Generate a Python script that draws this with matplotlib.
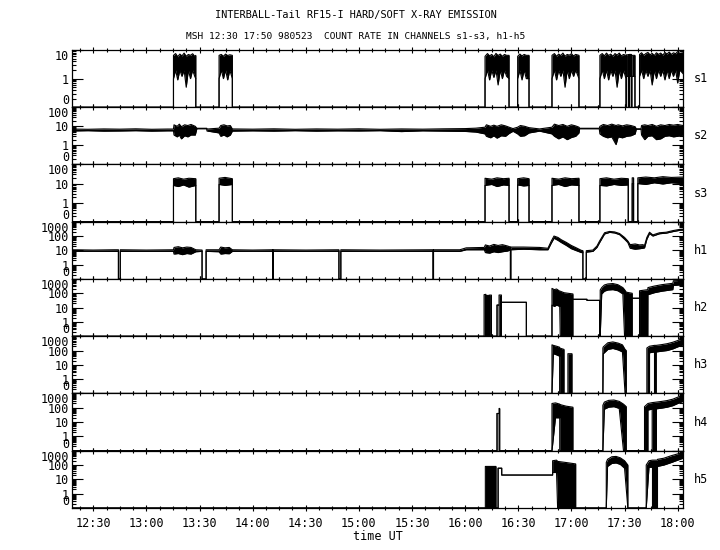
import numpy as np
import matplotlib
matplotlib.use("Agg")
import matplotlib.pyplot as plt
from matplotlib.ticker import FixedLocator, FixedFormatter, MultipleLocator, FuncFormatter, LogLocator, NullFormatter

plt.rcParams['font.family'] = ['DejaVu Sans Mono']

# ---------------- data (time in decimal hours UT, count rates) ----------------
# each channel: times, upper envelope, lower envelope (0 = no counts)
s1_t  = [12.30,
         13.255, 13.255, 13.275, 13.295, 13.315, 13.335, 13.355, 13.375, 13.395, 13.415, 13.435, 13.455, 13.465, 13.465,
         13.684, 13.684, 13.705, 13.725, 13.745, 13.765, 13.785, 13.809, 13.809,
         16.187, 16.187, 16.21, 16.23, 16.25, 16.27, 16.29, 16.31, 16.33, 16.35, 16.37, 16.39, 16.413, 16.413,
         16.494, 16.494, 16.515, 16.535, 16.555, 16.575, 16.601, 16.601,
         16.817, 16.817, 16.84, 16.86, 16.88, 16.90, 16.92, 16.94, 16.96, 16.98, 17.00, 17.02, 17.04, 17.071, 17.071,
         17.268, 17.268, 17.29, 17.31, 17.33, 17.35, 17.37, 17.39, 17.41, 17.43, 17.45, 17.47, 17.49, 17.514,
         17.514, 17.519, 17.519, 17.539, 17.539, 17.544, 17.544, 17.564, 17.564, 17.569, 17.569, 17.598, 17.598,
         17.641, 17.641, 17.66, 17.68, 17.70, 17.72, 17.74, 17.76, 17.78, 17.80, 17.82, 17.84, 17.86, 17.88,
         17.90, 17.92, 17.94, 17.96, 17.98, 18.00, 18.02, 18.05]
s1_hi = [0,
         0, 6.5, 7.5, 5.8, 7.2, 6.2, 7.8, 6.0, 7.0, 6.5, 7.4, 6.0, 6.5, 0,
         0, 6.5, 7.0, 6.0, 7.2, 6.4, 6.8, 6.5, 0,
         0, 6.0, 7.5, 6.2, 7.0, 5.8, 7.6, 6.4, 7.2, 6.0, 7.0, 6.5, 6.5, 0,
         0, 6.0, 7.2, 6.2, 7.0, 6.5, 6.5, 0,
         0, 6.5, 7.5, 6.0, 7.2, 6.4, 7.8, 6.0, 7.0, 6.6, 7.4, 6.2, 7.0, 6.5, 0,
         0, 6.5, 7.5, 6.2, 7.8, 6.4, 7.2, 6.0, 7.5, 6.6, 7.8, 6.2, 7.0, 6.5,
         0, 0, 6.8, 6.8, 0, 0, 7.0, 7.0, 0, 0, 6.5, 6.5, 0,
         0, 7.0, 8.0, 6.5, 7.5, 8.2, 6.8, 7.6, 6.4, 8.0, 7.0, 7.8, 6.6, 8.2,
         7.2, 8.5, 7.0, 8.0, 7.4, 8.8, 7.6, 8.0]
s1_lo = [0,
         0, 1.0, 2.0, 0.9, 2.0, 1.2, 2.0, 0.5, 2.0, 1.0, 2.0, 1.2, 1.0, 0,
         0, 1.0, 2.0, 1.0, 2.0, 0.9, 2.0, 1.0, 0,
         0, 1.0, 2.0, 0.9, 2.0, 1.1, 2.0, 0.6, 2.0, 1.0, 2.0, 1.2, 1.0, 0,
         0, 1.0, 2.0, 0.9, 2.0, 1.0, 1.0, 0,
         0, 1.0, 2.0, 0.9, 2.0, 1.2, 2.0, 0.5, 2.0, 1.0, 2.0, 1.2, 2.0, 1.0, 0,
         0, 1.0, 2.0, 1.0, 2.0, 0.9, 2.0, 1.2, 2.0, 0.5, 2.0, 1.0, 2.0, 1.0,
         0, 0, 1.2, 1.2, 0, 0, 1.2, 1.2, 0, 0, 1.2, 1.2, 0,
         0, 1.2, 2.0, 1.0, 2.0, 1.2, 2.0, 0.6, 2.0, 1.0, 2.0, 1.2, 2.0, 0.9,
         2.0, 1.0, 2.0, 1.2, 2.0, 0.7, 2.0, 1.5]

s2_t  = [12.30, 12.45, 12.60, 12.75, 12.90, 13.05, 13.20, 13.255, 13.26, 13.29, 13.31, 13.33, 13.36, 13.39,
         13.42, 13.46, 13.475, 13.568, 13.57, 13.684, 13.70, 13.73, 13.76, 13.79, 13.809,
         14.00, 14.20, 14.40, 14.60, 14.80, 15.00, 15.20, 15.40, 15.60, 15.80, 16.00, 16.10,
         16.187, 16.20, 16.24, 16.27, 16.30, 16.34, 16.38, 16.413, 16.45, 16.494, 16.52, 16.56, 16.601,
         16.70, 16.817, 16.84, 16.88, 16.92, 16.96, 17.00, 17.04, 17.071, 17.077, 17.262, 17.268,
         17.30, 17.34, 17.38, 17.42, 17.44, 17.48, 17.52, 17.56, 17.60, 17.61, 17.655, 17.66, 17.69,
         17.72, 17.76, 17.80, 17.84, 17.88, 17.92, 17.96, 18.00, 18.05]
s2_hi = [7.2, 7.0, 7.3, 7.1, 7.4, 7.0, 7.2, 7.2, 12, 10, 13, 9.5, 12, 11,
         12.5, 10, 7.9, 7.9, 7.2, 8.0, 11, 12, 10.5, 11, 7.3,
         7.1, 7.4, 7.0, 7.3, 7.1, 7.4, 7.0, 7.3, 7.1, 7.4, 7.6, 8.0,
         9, 12, 10, 11.5, 10, 12, 10.5, 9, 7.6, 9, 11, 10, 8.5,
         7.3, 9, 13, 11, 12.5, 10, 12, 10.5, 9, 7.9, 7.9, 10,
         12.5, 11, 13, 11, 12, 10.5, 12, 11, 9.5, 7.4, 7.4, 11, 12,
         11, 12.5, 10, 12, 11, 12.5, 11.5, 12.5, 11]
s2_lo = [5.7, 5.9, 5.6, 5.7, 5.9, 5.6, 5.8, 5.8, 3.5, 2.8, 3.5, 2.2, 3.2, 2.8,
         3.5, 3.5, 7.5, 7.5, 5.7, 4.5, 3.0, 3.5, 2.8, 3.5, 5.6,
         5.8, 5.6, 5.9, 5.6, 5.8, 5.7, 5.9, 5.3, 5.8, 5.6, 5.4, 5.0,
         4.0, 3.0, 2.5, 3.2, 2.4, 3.2, 3.0, 4.2, 5.5, 4.0, 3.0, 3.2, 4.5,
         5.6, 4.0, 3.0, 2.2, 2.8, 2.0, 2.6, 3.0, 4.5, 7.5, 7.5, 4.0,
         3.0, 2.5, 2.8, 1.1, 2.8, 2.5, 3.0, 3.2, 4.0, 7.0, 7.0, 3.5, 2.0,
         3.0, 3.2, 2.0, 2.2, 3.0, 3.2, 2.8, 3.0, 3.5]

s3_t  = [12.30, 13.255, 13.255, 13.30, 13.35, 13.40, 13.465, 13.465,
         13.684, 13.684, 13.74, 13.809, 13.809,
         16.187, 16.187, 16.25, 16.30, 16.36, 16.413, 16.413,
         16.494, 16.494, 16.55, 16.601, 16.601,
         16.817, 16.817, 16.88, 16.94, 17.00, 17.071, 17.071,
         17.268, 17.268, 17.33, 17.40, 17.47, 17.535, 17.535, 17.572, 17.572, 17.585, 17.585,
         17.625, 17.625, 17.70, 17.78, 17.86, 17.94, 18.05]
s3_hi = [0, 0, 18, 20, 17, 19, 18, 0,
         0, 19, 21, 18, 0,
         0, 19, 17, 20, 18, 19, 0,
         0, 18, 20, 18, 0,
         0, 19, 17, 20, 18, 19, 0,
         0, 18, 20, 17, 19, 18, 0, 0, 20, 20, 0,
         0, 20, 22, 20, 23, 21, 22]
s3_lo = [0, 0, 8, 7, 8.5, 6.5, 8, 0,
         0, 9, 8, 9, 0,
         0, 8, 9, 7, 8.5, 8, 0,
         0, 8.5, 7.5, 8, 0,
         0, 8, 9, 7, 8.5, 8, 0,
         0, 8, 7.5, 9, 8, 8.5, 0, 0, 10, 10, 0,
         0, 10, 9, 11, 9.5, 11, 10]

h1_t  = [12.30, 12.50, 12.70, 12.737, 12.737, 12.754, 12.754, 13.00, 13.255, 13.26, 13.30, 13.34, 13.38,
         13.42, 13.465, 13.524, 13.524, 13.562, 13.562, 13.684, 13.70, 13.74, 13.78, 13.809, 14.00,
         14.189, 14.189, 14.193, 14.193, 14.50, 14.812, 14.812, 14.83, 14.83, 15.20, 15.698, 15.698,
         15.702, 15.702, 15.95, 16.01, 16.18, 16.19, 16.23, 16.27, 16.31, 16.35, 16.40, 16.426, 16.426,
         16.43, 16.43, 16.55, 16.70, 16.779, 16.811, 16.836, 16.873, 16.905, 16.952, 16.999, 17.046,
         17.093, 17.108, 17.108, 17.14, 17.14, 17.202, 17.24, 17.265, 17.312, 17.359, 17.406, 17.453,
         17.50, 17.531, 17.553, 17.60, 17.64, 17.672, 17.688, 17.71, 17.735, 17.766, 17.829, 17.892,
         17.955, 18.017, 18.05]
h1_hi = [11, 10.5, 11, 11, 0, 0, 11, 10.5, 11, 16, 18, 15, 17,
         16, 11, 10.5, 0, 0, 11, 11, 17, 15, 16, 11, 10.5,
         11, 0, 0, 11, 10.5, 11, 0, 0, 11, 10.5, 11, 0,
         0, 11, 11, 15, 16, 24, 20, 26, 22, 25, 20, 17, 0,
         0, 17, 17, 16, 14, 45, 100, 80, 55, 36, 22, 15,
         10, 9.5, 0, 0, 9.5, 10.5, 20, 45, 170, 210, 195, 150,
         80, 45, 25, 28, 24, 25, 22, 80, 185, 120, 170, 185,
         240, 290, 300]
h1_lo = [8.5, 8.6, 8.4, 8.5, 0, 0, 8.5, 8.5, 8.5, 5.5, 6, 5, 6,
         5.5, 8, 8.5, 0, 0, 8.5, 8, 5.5, 6, 5.8, 8.5, 8.6,
         8.5, 0, 0, 8.5, 8.5, 8.5, 0, 0, 8.5, 8.5, 8.5, 0,
         0, 8.5, 8.5, 11, 11, 7, 6.4, 8, 7, 8, 9, 11, 0,
         0, 11, 12, 11, 11, 33, 70, 50, 35, 22, 13, 9.5,
         7, 7, 0, 0, 7.5, 8.5, 16, 35, 140, 180, 165, 125,
         60, 35, 14, 12, 13, 14, 15, 60, 150, 100, 145, 160,
         205, 250, 260]

h2_t  = [12.30, 16.178, 16.178, 16.195, 16.195, 16.200, 16.200, 16.225, 16.225, 16.230, 16.230, 16.247, 16.247,
         16.300, 16.300, 16.319, 16.319, 16.341, 16.341, 16.576, 16.576,
         16.817, 16.817, 16.84, 16.86, 16.89, 16.895, 16.93, 16.97, 17.014, 17.014, 17.146, 17.146, 17.265, 17.265,
         17.271, 17.271, 17.285, 17.31, 17.343, 17.39, 17.437, 17.484, 17.50, 17.516, 17.572, 17.572,
         17.641, 17.641, 17.719, 17.72, 17.78, 17.85, 17.954, 17.96, 18.05]
h2_hi = [0, 0, 80, 85, 0, 0, 70, 72, 0, 0, 75, 75, 0,
         0, 15, 15, 76, 76, 23.5, 23.5, 0,
         0, 220, 180, 200, 140, 140, 110, 100, 90, 38, 38, 32, 32, 0,
         0, 170, 250, 380, 450, 480, 400, 250, 180, 120, 100, 45,
         45, 150, 180, 250, 320, 400, 500, 750, 800]
h2_lo = [0, 0, 0, 0, 0, 0, 0, 0, 0, 0, 0, 0, 0,
         0, 15, 15, 0, 0, 23.5, 23.5, 0,
         0, 15, 12, 15, 12, 0, 0, 0, 0, 38, 38, 32, 32, 0,
         0, 0, 90, 140, 170, 180, 150, 90, 0, 0, 0, 45,
         45, 0, 0, 80, 110, 140, 180, 350, 400]

h3_t  = [12.30, 16.817, 16.817, 16.83, 16.86, 16.889, 16.889, 16.93, 16.93, 16.967, 16.967, 17.005, 17.005,
         17.296, 17.296, 17.30, 17.343, 17.39, 17.44, 17.48, 17.505, 17.516, 17.516,
         17.71, 17.71, 17.735, 17.735, 17.782, 17.782, 17.798, 17.798, 17.85, 17.90, 17.954, 18.00, 18.05]
h3_hi = [0, 0, 250, 230, 200, 170, 150, 120, 0, 0, 60, 60, 0,
         0, 150, 180, 350, 400, 330, 250, 120, 100, 0,
         0, 150, 200, 200, 230, 230, 230, 230, 260, 300, 380, 500, 700]
h3_lo = [0, 0, 0, 60, 50, 40, 0, 0, 0, 0, 0, 0, 0,
         0, 0, 60, 120, 140, 110, 80, 0, 0, 0,
         0, 0, 0, 70, 80, 0, 0, 80, 90, 100, 130, 180, 250]

h4_t  = [12.30, 16.300, 16.300, 16.319, 16.319, 16.325, 16.325,
         16.817, 16.817, 16.85, 16.89, 16.89, 16.95, 17.014, 17.014,
         17.296, 17.296, 17.31, 17.35, 17.40, 17.45, 17.49, 17.516, 17.516,
         17.688, 17.688, 17.72, 17.72, 17.76, 17.76, 17.80, 17.80, 17.85, 17.90, 17.954, 18.00, 18.05]
h4_hi = [0, 0, 40, 40, 90, 90, 0,
         0, 200, 220, 180, 170, 130, 110, 0,
         0, 150, 250, 330, 350, 280, 180, 120, 0,
         0, 120, 200, 200, 230, 230, 250, 250, 280, 320, 400, 550, 700]
h4_lo = [0, 0, 40, 40, 0, 0, 0,
         0, 0, 20, 20, 0, 0, 0, 0,
         0, 0, 80, 110, 120, 90, 0, 0, 0,
         0, 0, 0, 70, 80, 0, 0, 85, 95, 110, 140, 200, 280]

h5_t  = [12.30, 16.19, 16.19, 16.29, 16.29, 16.31, 16.31, 16.344, 16.344, 16.823, 16.823, 16.86, 16.87,
         16.95, 17.04, 17.04, 17.328, 17.328, 17.34, 17.38, 17.42, 17.46, 17.50, 17.531, 17.531,
         17.704, 17.704, 17.73, 17.763, 17.763, 17.81, 17.81, 17.87, 17.94, 18.00, 18.05]
h5_hi = [0, 0, 80, 80, 0, 0, 60, 60, 20, 20, 200, 220, 180,
         150, 120, 0, 0, 150, 250, 380, 400, 320, 200, 100, 0,
         0, 100, 200, 220, 220, 220, 250, 300, 450, 600, 700]
h5_lo = [0, 0, 0, 0, 0, 0, 60, 60, 20, 20, 30, 30, 0,
         0, 0, 0, 0, 0, 80, 130, 140, 110, 60, 0, 0,
         0, 0, 70, 70, 0, 0, 80, 100, 150, 220, 300]

names = ['s1', 's2', 's3', 'h1', 'h2', 'h3', 'h4', 'h5']
tops = [10, 100, 100, 1000, 1000, 1000, 1000, 1000]
series = [(s1_t, s1_hi, s1_lo), (s2_t, s2_hi, s2_lo), (s3_t, s3_hi, s3_lo),
          (h1_t, h1_hi, h1_lo), (h2_t, h2_hi, h2_lo), (h3_t, h3_hi, h3_lo),
          (h4_t, h4_hi, h4_lo), (h5_t, h5_hi, h5_lo)]

# ---------------- figure ----------------
fig = plt.figure(figsize=(7.2, 5.5), dpi=100)
axes = fig.subplots(8, 1, sharex=True)
fig.subplots_adjust(left=0.1, right=0.9486, top=0.9091, bottom=0.0764, hspace=0)

floor = 0.1
for ax, name, top, (t, hi, lo) in zip(axes, names, tops, series):
    t = np.asarray(t, float)
    hi = np.maximum(np.asarray(hi, float), floor)
    lo = np.maximum(np.asarray(lo, float), floor)
    ax.set_yscale('log')
    ax.set_ylim(floor, top)
    ax.fill_between(t, lo, hi, color='black', lw=0)
    ax.plot(t, hi, color='black', lw=0.8)
    ax.plot(t, lo, color='black', lw=0.8)

    majors = [v for v in [0.1, 1, 10, 100, 1000] if v <= top]
    labels = ['0' if v == 0.1 else str(int(v)) for v in majors]
    ax.yaxis.set_major_locator(FixedLocator(majors))
    ax.yaxis.set_major_formatter(FixedFormatter(labels))
    ax.yaxis.set_minor_locator(LogLocator(base=10, subs=np.arange(2, 10), numticks=20))
    ax.yaxis.set_minor_formatter(NullFormatter())
    ax.tick_params(axis='y', which='major', direction='in', length=8, width=0.8,
                   left=True, right=True, labelsize=8.5, pad=2)
    ax.tick_params(axis='y', which='minor', direction='in', length=3, width=0.8,
                   left=True, right=True)
    ax.tick_params(axis='x', which='major', direction='inout', length=4.5, width=0.8,
                   top=True, bottom=True, labelsize=8.5)
    ax.tick_params(axis='x', which='minor', direction='inout', length=2.5, width=0.8,
                   top=True, bottom=True)
    for sp in ax.spines.values():
        sp.set_linewidth(0.9)
    tl = ax.yaxis.get_majorticklabels()
    tl[0].set_va('bottom')
    tl[-1].set_va('top')
    ax.text(1.018, 0.5, name, transform=ax.transAxes, va='center', ha='left', fontsize=8.5)

ax = axes[-1]
ax.set_xlim(12.30, 18.05)
ax.xaxis.set_major_locator(MultipleLocator(0.5))
ax.xaxis.set_minor_locator(MultipleLocator(0.125))
ax.xaxis.set_major_formatter(FuncFormatter(lambda v, p: '%02d:%02d' % (int(v), int(round((v % 1) * 60)))))
ax.set_xlabel('time UT', fontsize=8.5, labelpad=0)
ax.tick_params(axis='x', pad=4)

fig.text(0.494, 0.973, 'INTERBALL-Tail RF15-I HARD/SOFT X-RAY EMISSION', ha='center', va='center', fontsize=7.4)
fig.text(0.494, 0.933, 'MSH 12:30 17:50 980523  COUNT RATE IN CHANNELS s1-s3, h1-h5',
         ha='center', va='center', fontsize=6.8)

fig.savefig('out.png', dpi=100)
